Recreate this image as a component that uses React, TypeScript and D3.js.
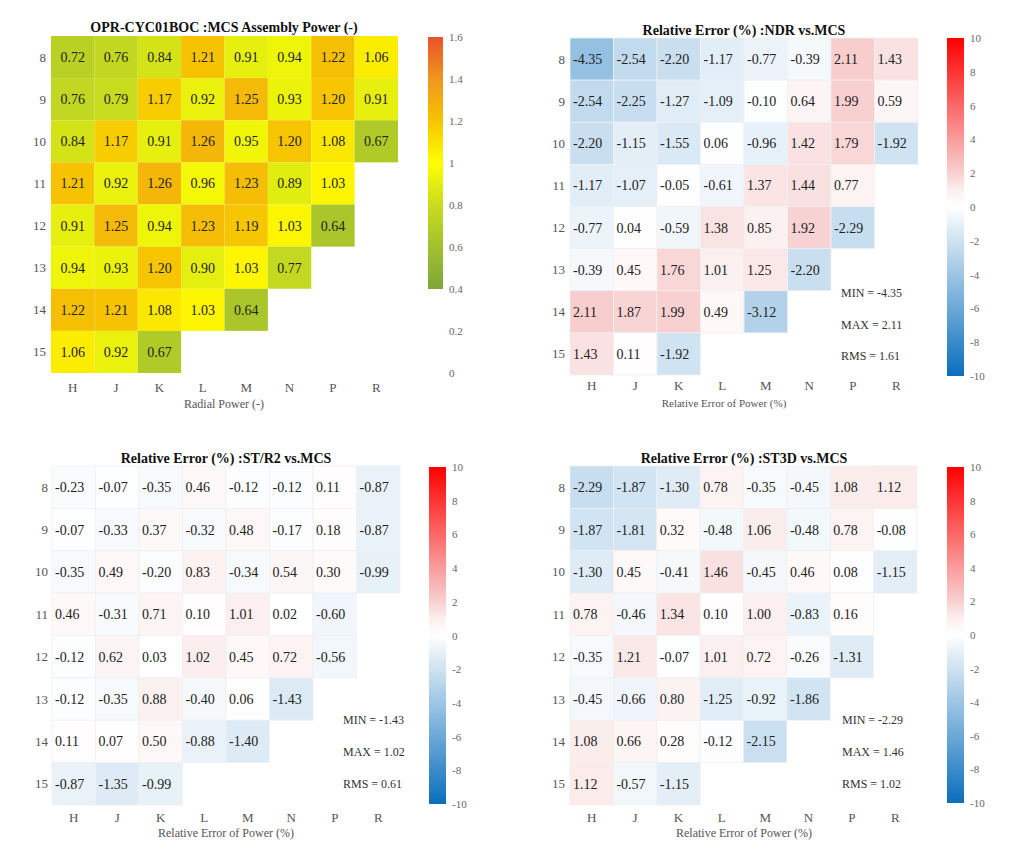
import React from "react";
import * as d3 from "d3";

const cols = ["H", "J", "K", "L", "M", "N", "P", "R"];
const rows = ["8", "9", "10", "11", "12", "13", "14", "15"];

const powerValues: number[][] = [
  [0.72, 0.76, 0.84, 1.21, 0.91, 0.94, 1.22, 1.06],
  [0.76, 0.79, 1.17, 0.92, 1.25, 0.93, 1.2, 0.91],
  [0.84, 1.17, 0.91, 1.26, 0.95, 1.2, 1.08, 0.67],
  [1.21, 0.92, 1.26, 0.96, 1.23, 0.89, 1.03],
  [0.91, 1.25, 0.94, 1.23, 1.19, 1.03, 0.64],
  [0.94, 0.93, 1.2, 0.9, 1.03, 0.77],
  [1.22, 1.21, 1.08, 1.03, 0.64],
  [1.06, 0.92, 0.67],
];

const ndrValues: number[][] = [
  [-4.35, -2.54, -2.2, -1.17, -0.77, -0.39, 2.11, 1.43],
  [-2.54, -2.25, -1.27, -1.09, -0.1, 0.64, 1.99, 0.59],
  [-2.2, -1.15, -1.55, 0.06, -0.96, 1.42, 1.79, -1.92],
  [-1.17, -1.07, -0.05, -0.61, 1.37, 1.44, 0.77],
  [-0.77, 0.04, -0.59, 1.38, 0.85, 1.92, -2.29],
  [-0.39, 0.45, 1.76, 1.01, 1.25, -2.2],
  [2.11, 1.87, 1.99, 0.49, -3.12],
  [1.43, 0.11, -1.92],
];

const str2Values: number[][] = [
  [-0.23, -0.07, -0.35, 0.46, -0.12, -0.12, 0.11, -0.87],
  [-0.07, -0.33, 0.37, -0.32, 0.48, -0.17, 0.18, -0.87],
  [-0.35, 0.49, -0.2, 0.83, -0.34, 0.54, 0.3, -0.99],
  [0.46, -0.31, 0.71, 0.1, 1.01, 0.02, -0.6],
  [-0.12, 0.62, 0.03, 1.02, 0.45, 0.72, -0.56],
  [-0.12, -0.35, 0.88, -0.4, 0.06, -1.43],
  [0.11, 0.07, 0.5, -0.88, -1.4],
  [-0.87, -1.35, -0.99],
];

const st3dValues: number[][] = [
  [-2.29, -1.87, -1.3, 0.78, -0.35, -0.45, 1.08, 1.12],
  [-1.87, -1.81, 0.32, -0.48, 1.06, -0.48, 0.78, -0.08],
  [-1.3, 0.45, -0.41, 1.46, -0.45, 0.46, 0.08, -1.15],
  [0.78, -0.46, 1.34, 0.1, 1.0, -0.83, 0.16],
  [-0.35, 1.21, -0.07, 1.01, 0.72, -0.26, -1.31],
  [-0.45, -0.66, 0.8, -1.25, -0.92, -1.86],
  [1.08, 0.66, 0.28, -0.12, -2.15],
  [1.12, -0.57, -1.15],
];

const ndrStats = ["MIN = -4.35", "MAX = 2.11", "RMS = 1.61"];
const str2Stats = ["MIN = -1.43", "MAX = 1.02", "RMS = 0.61"];
const st3dStats = ["MIN = -2.29", "MAX = 1.46", "RMS = 1.02"];

const powerTicks = [0, 0.2, 0.4, 0.6, 0.8, 1, 1.2, 1.4, 1.6];
const errorTicks = [-10, -8, -6, -4, -2, 0, 2, 4, 6, 8, 10];

const powerColor = d3
  .scaleLinear<string>()
  .domain([0.4, 0.6, 0.8, 1.0, 1.2, 1.4, 1.6])
  .range(["#7ea63a", "#a2c12e", "#c9dc1e", "#ffff00", "#f6c400", "#f0961e", "#e9532a"])
  .clamp(true);

const errorColor = d3
  .scaleLinear<string>()
  .domain([-10, 0, 1, 2, 10])
  .range(["#0a6ebd", "#ffffff", "#fcefef", "#f8d0d0", "#ff0000"])
  .clamp(true);

const FONT = "'Liberation Serif', 'Times New Roman', serif";

type PanelProps = {
  id: string;
  values: number[][];
  title: string;
  titleX: number;
  titleY: number;
  gridLeft: number;
  gridTop: number;
  gridW: number;
  gridH: number;
  labelRight: number;
  xLabelY: number;
  xTitle: string;
  xTitleX: number;
  xTitleY: number;
  xTitleSize: number;
  cbX: number;
  cbW: number;
  cbTop: number;
  cbBottom: number;
  cbDomain: [number, number];
  cbColorDomain: [number, number];
  ticks: number[];
  color: (v: number) => string;
  centered: boolean;
  stats?: string[];
  statsX?: number;
  statsY?: number[];
  cellStroke: string;
};

function Panel(p: PanelProps) {
  const x = d3.scaleBand<string>().domain(cols).range([p.gridLeft, p.gridLeft + p.gridW]);
  const y = d3.scaleBand<string>().domain(rows).range([p.gridTop, p.gridTop + p.gridH]);
  const cy = d3.scaleLinear().domain(p.cbDomain).range([p.cbBottom, p.cbTop]);
  const gradStops = d3.range(0, 41).map((i) => {
    const v = p.cbColorDomain[0] + ((p.cbColorDomain[1] - p.cbColorDomain[0]) * i) / 40;
    return { off: i / 40, c: p.color(v) };
  });
  const gid = "grad-" + p.id;
  return (
    <g>
      <defs>
        <linearGradient id={gid} x1="0" y1="1" x2="0" y2="0">
          {gradStops.map((s, i) => (
            <stop key={i} offset={s.off} stopColor={s.c} />
          ))}
        </linearGradient>
      </defs>
      <text
        x={p.titleX}
        y={p.titleY}
        textAnchor="middle"
        fontFamily={FONT}
        fontWeight="bold"
        fontSize={14}
        fill="#111"
      >
        {p.title}
      </text>
      {p.values.map((row, ri) =>
        row.map((v, ci) => (
          <rect
            key={`r${ri}-${ci}`}
            x={x(cols[ci])}
            y={y(rows[ri])}
            width={x.bandwidth()}
            height={y.bandwidth()}
            fill={p.color(v)}
            stroke={p.cellStroke}
            strokeWidth={0.8}
          />
        ))
      )}
      {p.values.map((row, ri) =>
        row.map((v, ci) => (
          <text
            key={`t${ri}-${ci}`}
            x={p.centered ? (x(cols[ci]) as number) + x.bandwidth() / 2 : (x(cols[ci]) as number) + 3}
            y={(y(rows[ri]) as number) + y.bandwidth() / 2 + 5}
            textAnchor={p.centered ? "middle" : "start"}
            fontFamily={FONT}
            fontSize={14}
            fill="#222"
          >
            {v.toFixed(2)}
          </text>
        ))
      )}
      {rows.map((r) => (
        <text
          key={"yl" + r}
          x={p.labelRight}
          y={(y(r) as number) + y.bandwidth() / 2 + 4.5}
          textAnchor="end"
          fontFamily={FONT}
          fontSize={13}
          fill="#555"
        >
          {r}
        </text>
      ))}
      {cols.map((c) => (
        <text
          key={"xl" + c}
          x={(x(c) as number) + x.bandwidth() / 2}
          y={p.xLabelY}
          textAnchor="middle"
          fontFamily={FONT}
          fontSize={13}
          fill="#555"
        >
          {c}
        </text>
      ))}
      <text
        x={p.xTitleX}
        y={p.xTitleY}
        textAnchor="middle"
        fontFamily={FONT}
        fontSize={p.xTitleSize}
        fill="#555"
      >
        {p.xTitle}
      </text>
      <rect
        x={p.cbX}
        y={cy(p.cbColorDomain[1])}
        width={p.cbW}
        height={cy(p.cbColorDomain[0]) - cy(p.cbColorDomain[1])}
        fill={`url(#${gid})`}
      />
      {p.ticks.map((t) => (
        <text
          key={"cb" + t}
          x={p.cbX + p.cbW + 6}
          y={cy(t) + 4}
          fontFamily={FONT}
          fontSize={11}
          fill="#666"
        >
          {String(t)}
        </text>
      ))}
      {p.stats &&
        p.stats.map((s, i) => (
          <text
            key={"st" + i}
            x={p.statsX}
            y={(p.statsY as number[])[i] + 4}
            fontFamily={FONT}
            fontSize={12}
            fill="#333"
          >
            {s}
          </text>
        ))}
    </g>
  );
}

export default function App() {
  return (
    <svg width={1024} height={856} style={{ position: "absolute", left: 0, top: 0, background: "#fff" }}>
      <rect x={0} y={0} width={1024} height={856} fill="#fff" />
      <Panel
        id="p1"
        values={powerValues}
        title="OPR-CYC01BOC :MCS Assembly Power (-)"
        titleX={224}
        titleY={32}
        gridLeft={51}
        gridTop={36}
        gridW={347}
        gridH={337}
        labelRight={46}
        xLabelY={392}
        xTitle="Radial Power (-)"
        xTitleX={224}
        xTitleY={408}
        xTitleSize={12}
        cbX={428}
        cbW={15}
        cbTop={37}
        cbBottom={373}
        cbDomain={[0, 1.6]}
        cbColorDomain={[0.4, 1.6]}
        ticks={powerTicks}
        color={(v) => powerColor(v)}
        centered={true}
        cellStroke="none"
      />
      <Panel
        id="p2"
        values={ndrValues}
        title="Relative Error (%) :NDR vs.MCS"
        titleX={744}
        titleY={35}
        gridLeft={570}
        gridTop={38}
        gridW={348}
        gridH={337}
        labelRight={565}
        xLabelY={390}
        xTitle="Relative Error of Power (%)"
        xTitleX={724}
        xTitleY={407}
        xTitleSize={11}
        cbX={947}
        cbW={17}
        cbTop={38}
        cbBottom={376}
        cbDomain={[-10, 10]}
        cbColorDomain={[-10, 10]}
        ticks={errorTicks}
        color={(v) => errorColor(v)}
        centered={false}
        stats={ndrStats}
        statsX={841}
        statsY={[293, 325, 356]}
        cellStroke="#f0f0f0"
      />
      <Panel
        id="p3"
        values={str2Values}
        title="Relative Error (%) :ST/R2 vs.MCS"
        titleX={226}
        titleY={463}
        gridLeft={52}
        gridTop={466}
        gridW={348}
        gridH={339}
        labelRight={48}
        xLabelY={822}
        xTitle="Relative Error of Power (%)"
        xTitleX={226}
        xTitleY={837}
        xTitleSize={12}
        cbX={429}
        cbW={17}
        cbTop={467}
        cbBottom={804}
        cbDomain={[-10, 10]}
        cbColorDomain={[-10, 10]}
        ticks={errorTicks}
        color={(v) => errorColor(v)}
        centered={false}
        stats={str2Stats}
        statsX={343}
        statsY={[720, 752, 784]}
        cellStroke="#f0f0f0"
      />
      <Panel
        id="p4"
        values={st3dValues}
        title="Relative Error (%) :ST3D vs.MCS"
        titleX={744}
        titleY={463}
        gridLeft={570}
        gridTop={466}
        gridW={347}
        gridH={339}
        labelRight={565}
        xLabelY={822}
        xTitle="Relative Error of Power (%)"
        xTitleX={744}
        xTitleY={837}
        xTitleSize={12}
        cbX={947}
        cbW={17}
        cbTop={467}
        cbBottom={803}
        cbDomain={[-10, 10]}
        cbColorDomain={[-10, 10]}
        ticks={errorTicks}
        color={(v) => errorColor(v)}
        centered={false}
        stats={st3dStats}
        statsX={842}
        statsY={[720, 752, 784]}
        cellStroke="#f0f0f0"
      />
    </svg>
  );
}
